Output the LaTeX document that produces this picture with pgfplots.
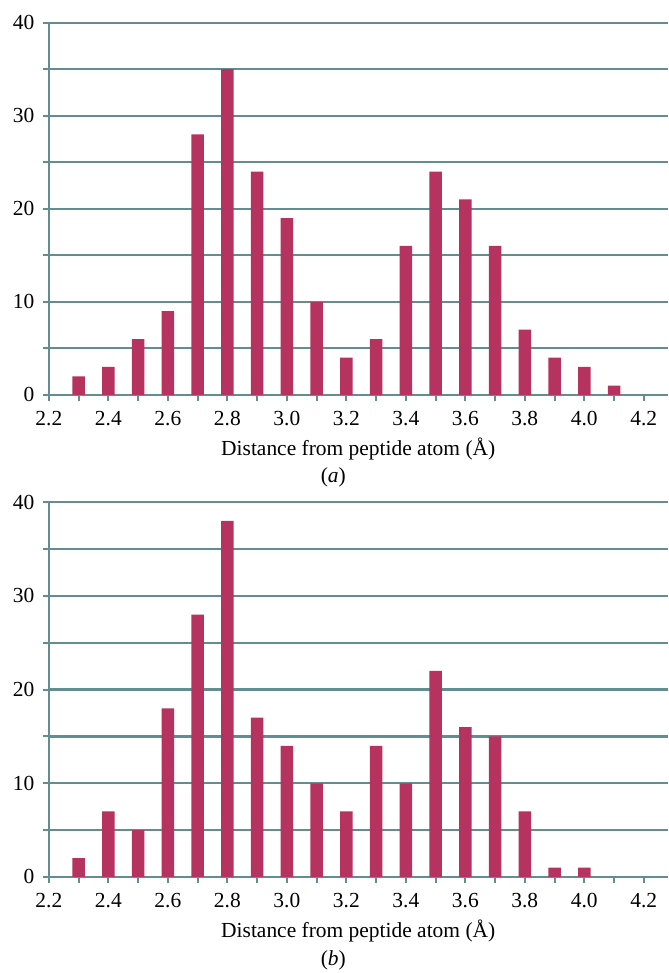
\documentclass[border=0pt]{standalone}
\usepackage{fontspec}
\setmainfont{Liberation Serif}
\usepackage{pgfplots}
\pgfplotsset{compat=1.18}
\definecolor{gridc}{HTML}{628E91}
\definecolor{barc}{HTML}{B5335E}
\pgfplotsset{
  histo/.style={
    scale only axis,
    width=620bp,
    xmin=2.2, xmax=4.28, ymin=0, ymax=40,
    axis lines=left,
    axis line style={-, gridc, line width=2.2bp},
    xtick={2.2,2.4,...,4.21},
    minor xtick={2.3,2.5,...,4.11},
    xticklabel={\pgfmathprintnumber[fixed,fixed zerofill,precision=1]{\tick}},
    ytick={0,10,20,30,40},
    minor ytick={5,15,25,35},
    ymajorgrids, yminorgrids,
    major grid style={gridc, line width=2.2bp},
    minor grid style={gridc, line width=2.2bp},
    tick style={gridc, line width=2bp},
    major tick length=6bp, minor tick length=6bp,
    tick align=outside,
    /pgf/number format/assume math mode=true,
    ticklabel style={font=\fontsize{21.5bp}{25bp}\selectfont},
    label style={font=\fontsize{21.5bp}{25bp}\selectfont},
    xlabel={Distance from peptide atom (Å)},
    xlabel style={yshift=-5bp},
    yticklabel style={xshift=-5bp},
    xticklabel style={yshift=-7bp},
    clip=false,
  }
}
\begin{document}
\begin{tikzpicture}
\path (0,0) rectangle (669bp,-973bp);
\begin{axis}[histo, height=373bp, at={(49bp,-22.7bp)}, anchor=north west]
\addplot[ybar, bar width=12.5bp, fill=barc, draw=none] coordinates {
(2.3,2) (2.4,3) (2.5,6) (2.6,9) (2.7,28) (2.8,35) (2.9,24) (3.0,19) (3.1,10)
(3.2,4) (3.3,6) (3.4,16) (3.5,24) (3.6,21) (3.7,16) (3.8,7) (3.9,4) (4.0,3) (4.1,1)};
\end{axis}
\node[font=\fontsize{21.5bp}{25bp}\selectfont] at (334bp,-478bp) {(\textit{a})};
\begin{axis}[histo, height=375.5bp, at={(49bp,-503.3bp)}, anchor=north west]
\addplot[ybar, bar width=12.5bp, fill=barc, draw=none] coordinates {
(2.3,2) (2.4,7) (2.5,5) (2.6,18) (2.7,28) (2.8,38) (2.9,17) (3.0,14) (3.1,10)
(3.2,7) (3.3,14) (3.4,10) (3.5,22) (3.6,16) (3.7,15) (3.8,7) (3.9,1) (4.0,1)};
\end{axis}
\node[font=\fontsize{21.5bp}{25bp}\selectfont] at (334bp,-962bp) {(\textit{b})};
\end{tikzpicture}
\end{document}
